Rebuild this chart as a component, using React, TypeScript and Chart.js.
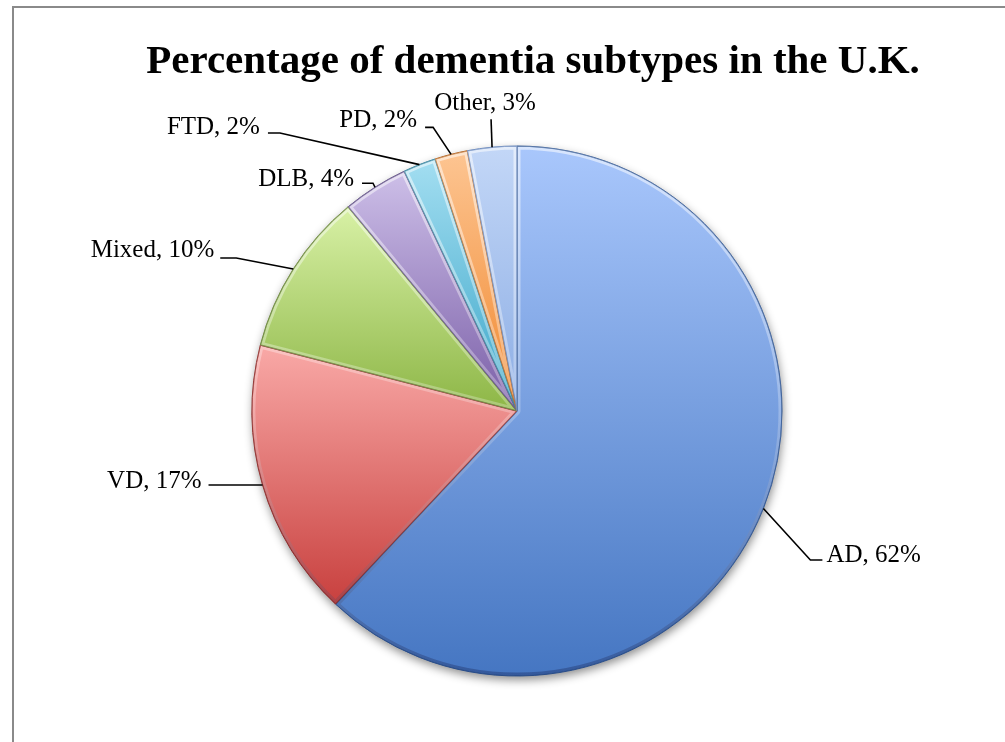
import React, { useEffect, useRef } from "react";
import { Chart, registerables } from "chart.js";

Chart.register(...registerables);

const TITLE = "Percentage of dementia subtypes in the U.K.";
const categories = ["AD", "VD", "Mixed", "DLB", "FTD", "PD", "Other"];
const percentages = [62, 17, 10, 4, 2, 2, 3];

// styles (top of slice -> bottom of slice gradient)
const lightColors = ["#a9c7fc", "#f9a9a7", "#d8f1a6", "#cdbfe8", "#a3def1", "#fdc592", "#c3d7f7"];
const baseColors = ["#4576c2", "#c8403e", "#8db646", "#7a5ea7", "#3aa5c8", "#f0882f", "#8cade4"];
const edgeColors = ["#2f5591", "#8e2a28", "#5f7d2c", "#52407a", "#247894", "#b05e18", "#5d7fb8"];

// leader line layout: elbow offset from the slice anchor, horizontal tail, text offset from line end
const leaderLayout = [
  { elbow: [47, 51.5], tail: 12, text: [4, 2], align: "left" },
  { elbow: [0, 0], tail: -54, text: [-7, 3], align: "right" },
  { elbow: [-57, -11], tail: -16, text: [-6, -1], align: "right" },
  { elbow: [-2, -4], tail: -11, text: [-8, 3], align: "right" },
  { elbow: [-139.5, -31.6], tail: -12, text: [-8, 1], align: "right" },
  { elbow: [-18, -27], tail: -8, text: [-8, 0], align: "right" },
  { elbow: [-1, -28], tail: 0, text: [-6, -9], align: "center" },
];

const LABEL_FONT = "25px 'Liberation Serif', serif";
const TITLE_FONT = "bold 41px 'Liberation Serif', serif";

function sliceGradient(context: any) {
  const chart = context.chart;
  const area = chart.chartArea;
  const i = context.dataIndex;
  if (!area) return baseColors[i];
  const cx = (area.left + area.right) / 2;
  const cy = (area.top + area.bottom) / 2;
  const r = (Math.min(area.right - area.left, area.bottom - area.top) - 1) / 2;
  const total = percentages.reduce((a, b) => a + b, 0);
  let cum = 0;
  for (let k = 0; k < i; k++) cum += percentages[k];
  const a0 = -Math.PI / 2 + (2 * Math.PI * cum) / total;
  const a1 = a0 + (2 * Math.PI * percentages[i]) / total;
  let yMin = cy;
  let yMax = cy;
  for (let s = 0; s <= 60; s++) {
    const a = a0 + ((a1 - a0) * s) / 60;
    const y = cy + Math.sin(a) * r;
    yMin = Math.min(yMin, y);
    yMax = Math.max(yMax, y);
  }
  const g = chart.ctx.createLinearGradient(0, yMin, 0, yMax);
  g.addColorStop(0, lightColors[i]);
  g.addColorStop(1, baseColors[i]);
  return g;
}

function slicePath(ctx: CanvasRenderingContext2D, arc: any) {
  ctx.beginPath();
  ctx.moveTo(arc.x, arc.y);
  ctx.arc(arc.x, arc.y, arc.outerRadius, arc.startAngle, arc.endAngle);
  ctx.closePath();
}

const framePlugin = {
  id: "frame",
  beforeDraw(chart: any) {
    const ctx = chart.ctx;
    ctx.save();
    ctx.strokeStyle = "#8a8a8a";
    ctx.lineWidth = 2;
    ctx.beginPath();
    ctx.moveTo(13, chart.height);
    ctx.lineTo(13, 7);
    ctx.lineTo(chart.width, 7);
    ctx.stroke();
    ctx.fillStyle = "#000";
    ctx.font = TITLE_FONT;
    ctx.textAlign = "center";
    ctx.textBaseline = "alphabetic";
    ctx.fillText(TITLE, 533, 73);
    ctx.restore();
  },
  beforeDatasetsDraw(chart: any) {
    const meta = chart.getDatasetMeta(0);
    const arc = meta.data[0];
    if (!arc) return;
    const ctx = chart.ctx;
    ctx.save();
    ctx.beginPath();
    ctx.arc(arc.x, arc.y, arc.outerRadius, 0, Math.PI * 2);
    ctx.shadowColor = "rgba(0,0,0,0.45)";
    ctx.shadowBlur = 10;
    ctx.shadowOffsetX = 1;
    ctx.shadowOffsetY = 4;
    ctx.fillStyle = "#ffffff";
    ctx.fill();
    ctx.restore();
  },
  afterDatasetsDraw(chart: any) {
    const meta = chart.getDatasetMeta(0);
    const ctx = chart.ctx;
    // soft bevel: light rim on the upper edges, darker rim on the lower edges
    meta.data.forEach((arc: any, i: number) => {
      ctx.save();
      slicePath(ctx, arc);
      ctx.clip();
      const g = ctx.createLinearGradient(0, arc.y - arc.outerRadius, 0, arc.y + arc.outerRadius);
      g.addColorStop(0, "rgba(255,255,255,0.55)");
      g.addColorStop(0.5, "rgba(255,255,255,0.25)");
      g.addColorStop(1, "rgba(0,0,40,0.25)");
      slicePath(ctx, arc);
      ctx.strokeStyle = g;
      ctx.lineWidth = 7;
      ctx.lineJoin = "round";
      ctx.stroke();
      slicePath(ctx, arc);
      ctx.strokeStyle = edgeColors[i];
      ctx.globalAlpha = 0.6;
      ctx.lineWidth = 1.5;
      ctx.stroke();
      ctx.restore();
    });
    ctx.save();
    meta.data.forEach((arc: any, i: number) => {
      const mid = (arc.startAngle + arc.endAngle) / 2;
      const ax = arc.x + Math.cos(mid) * arc.outerRadius;
      const ay = arc.y + Math.sin(mid) * arc.outerRadius;
      const lay = leaderLayout[i];
      const ex = ax + lay.elbow[0];
      const ey = ay + lay.elbow[1];
      const tx = ex + lay.tail;
      ctx.strokeStyle = "#000";
      ctx.lineWidth = 1.6;
      ctx.beginPath();
      ctx.moveTo(ax, ay);
      ctx.lineTo(ex, ey);
      ctx.lineTo(tx, ey);
      ctx.stroke();
      ctx.fillStyle = "#000";
      ctx.font = LABEL_FONT;
      ctx.textAlign = lay.align;
      ctx.textBaseline = "alphabetic";
      ctx.fillText(`${categories[i]}, ${percentages[i]}%`, tx + lay.text[0], ey + lay.text[1]);
    });
    ctx.restore();
  },
};

export default function App() {
  const ref = useRef<HTMLCanvasElement | null>(null);
  useEffect(() => {
    if (!ref.current) return;
    const chart = new Chart(ref.current, {
      type: "pie",
      data: {
        labels: categories,
        datasets: [
          {
            data: percentages,
            backgroundColor: sliceGradient,
            borderColor: edgeColors,
            borderWidth: 1,
          },
        ],
      },
      options: {
        responsive: false,
        animation: false,
        layout: { padding: { left: 251.5, right: 222.5, top: 145.5, bottom: 65.5 } },
        plugins: {
          legend: { display: false },
          title: { display: false },
          tooltip: { enabled: false },
        },
      },
      plugins: [framePlugin],
    });
    return () => chart.destroy();
  }, []);
  return (
    <div style={{ position: "absolute", left: 0, top: 0, width: 1005, height: 742, background: "#fff" }}>
      <canvas ref={ref} width={1005} height={742} style={{ display: "block" }} />
    </div>
  );
}
